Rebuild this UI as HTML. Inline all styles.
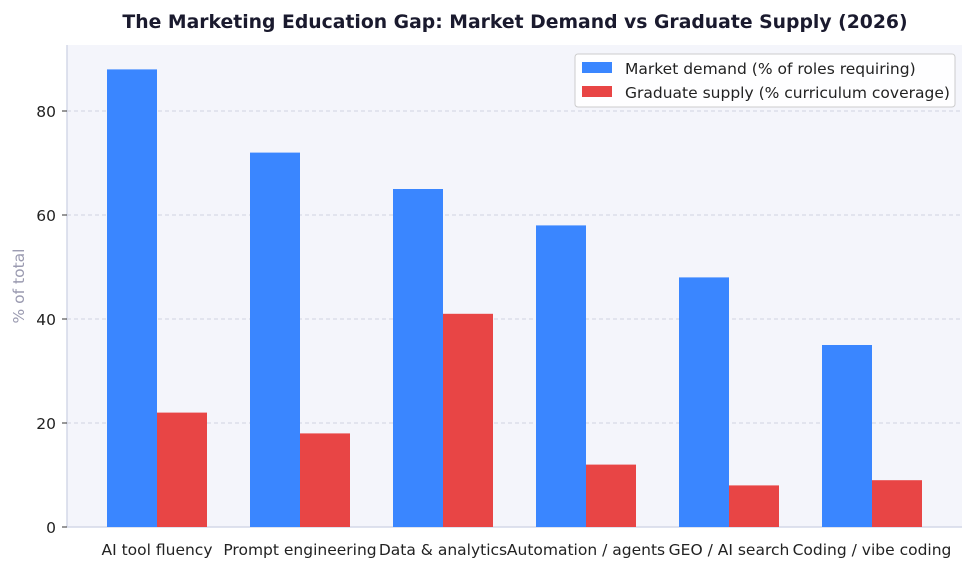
<!DOCTYPE html>
<html><head><meta charset="utf-8"><style>body{margin:0;background:#fff}svg{display:block}</style></head>
<body>
<svg width="975" height="570" xmlns="http://www.w3.org/2000/svg" font-family="DejaVu Sans, Liberation Sans, sans-serif">
<rect width="975" height="570" fill="#fff"/>
<rect x="67" y="45" width="895" height="482" fill="#f4f5fb"/>
<g stroke="#d0d3e0" stroke-dasharray="4,3" stroke-width="1">
<line x1="67" x2="962" y1="423" y2="423"/><line x1="67" x2="962" y1="319" y2="319"/>
<line x1="67" x2="962" y1="215" y2="215"/><line x1="67" x2="962" y1="111" y2="111"/>
</g>
<line x1="67" x2="67" y1="45" y2="527" stroke="#d4d8e8" stroke-width="1.5"/>
<line x1="67" x2="962" y1="527" y2="527" stroke="#d4d8e8" stroke-width="1.5"/>
<g stroke="#333" stroke-width="1"><line x1="62" x2="67" y1="527" y2="527"/><line x1="62" x2="67" y1="423" y2="423"/><line x1="62" x2="67" y1="319" y2="319"/><line x1="62" x2="67" y1="215" y2="215"/><line x1="62" x2="67" y1="111" y2="111"/></g>
<g font-size="15.5" fill="#222" text-anchor="end">
<text x="56" y="533">0</text><text x="56" y="429">20</text><text x="56" y="325">40</text><text x="56" y="221">60</text><text x="56" y="117">80</text>
</g>
<text transform="translate(24,286) rotate(-90)" text-anchor="middle" font-size="15.5" fill="#9a9ab0">% of total</text>
<g fill="#3a86ff">
<rect x="107" y="69.4" width="50" height="457.6"/>
<rect x="250" y="152.6" width="50" height="374.4"/>
<rect x="393" y="189" width="50" height="338"/>
<rect x="536" y="225.4" width="50" height="301.6"/>
<rect x="679" y="277.4" width="50" height="249.6"/>
<rect x="822" y="345" width="50" height="182"/>
</g>
<g fill="#e84545">
<rect x="157" y="412.6" width="50" height="114.4"/>
<rect x="300" y="433.4" width="50" height="93.6"/>
<rect x="443" y="313.8" width="50" height="213.2"/>
<rect x="586" y="464.6" width="50" height="62.4"/>
<rect x="729" y="485.4" width="50" height="41.6"/>
<rect x="872" y="480.2" width="50" height="46.8"/>
</g>
<g font-size="15.5" fill="#222" text-anchor="middle">
<text x="157" y="555">AI tool fluency</text><text x="300" y="555">Prompt engineering</text><text x="443" y="555">Data &amp; analytics</text>
<text x="586" y="555">Automation / agents</text><text x="729" y="555">GEO / AI search</text><text x="872" y="555">Coding / vibe coding</text>
</g>
<rect x="575" y="54" width="380" height="53" rx="3" fill="#fff" fill-opacity="0.9" stroke="#ccc"/>
<rect x="582" y="62" width="30" height="11" fill="#3a86ff"/>
<rect x="582" y="86" width="30" height="11" fill="#e84545"/>
<g font-size="15.5" fill="#222"><text x="625" y="74">Market demand (% of roles requiring)</text><text x="625" y="98">Graduate supply (% curriculum coverage)</text></g>
<text x="515" y="28" text-anchor="middle" font-size="18.8" font-weight="bold" fill="#1a1a2e">The Marketing Education Gap: Market Demand vs Graduate Supply (2026)</text>
</svg>
</body></html>
